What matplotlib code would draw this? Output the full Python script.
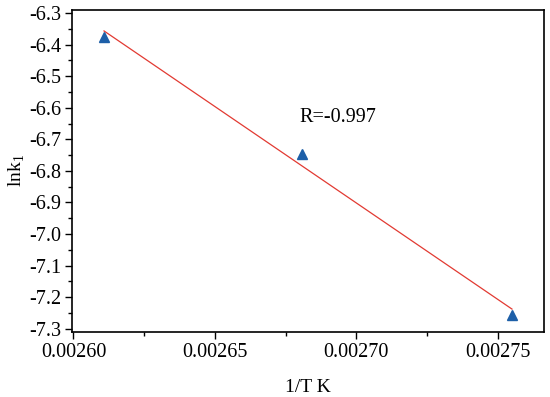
import numpy as np
import matplotlib.pyplot as plt
from matplotlib.ticker import MultipleLocator, FormatStrFormatter

plt.rcParams['font.family'] = ['Liberation Serif', 'DejaVu Serif']
plt.rcParams['axes.unicode_minus'] = False

# data
inv_t = [0.0026108, 0.0026807, 0.0027550]
lnk1 = [-6.376, -6.746, -7.256]
r_text = "R=-0.997"

# linear fit through the points
slope, icpt = np.polyfit(inv_t, lnk1, 1)
xfit = np.array([inv_t[0], inv_t[-1]])
yfit = slope * xfit + icpt

fig, ax = plt.subplots(figsize=(5.5, 3.97), dpi=100)
fig.subplots_adjust(left=0.131, right=0.989, top=0.975, bottom=0.164)

ax.plot(xfit, yfit, color='#e23a32', lw=0.9, zorder=2)
ax.plot(inv_t, lnk1, '^', color='#1d5fa8', ms=7, zorder=3)
ax.text(0.002680, -6.63, r_text, fontsize=14.5, ha='left', va='center')

ax.set_xlim(0.0025995, 0.0027663)
ax.set_ylim(-7.31, -6.29)
ax.xaxis.set_major_locator(MultipleLocator(0.00005))
ax.xaxis.set_minor_locator(MultipleLocator(0.000025))
ax.xaxis.set_major_formatter(FormatStrFormatter('%.5f'))
ax.yaxis.set_major_locator(MultipleLocator(0.1))
ax.yaxis.set_minor_locator(MultipleLocator(0.05))
ax.yaxis.set_major_formatter(FormatStrFormatter('%.1f'))

ax.tick_params(which='both', direction='out', top=False, right=False, labelsize=14.5, width=1)
ax.tick_params(which='major', length=5, pad=3)
ax.tick_params(which='minor', length=3)
for s in ax.spines.values():
    s.set_linewidth(1.2)

ax.set_xlabel("1/T K", fontsize=14, labelpad=12)
ax.set_ylabel("lnk$_\\mathregular{1}$", fontsize=14, labelpad=1)

fig.savefig("out.png")
